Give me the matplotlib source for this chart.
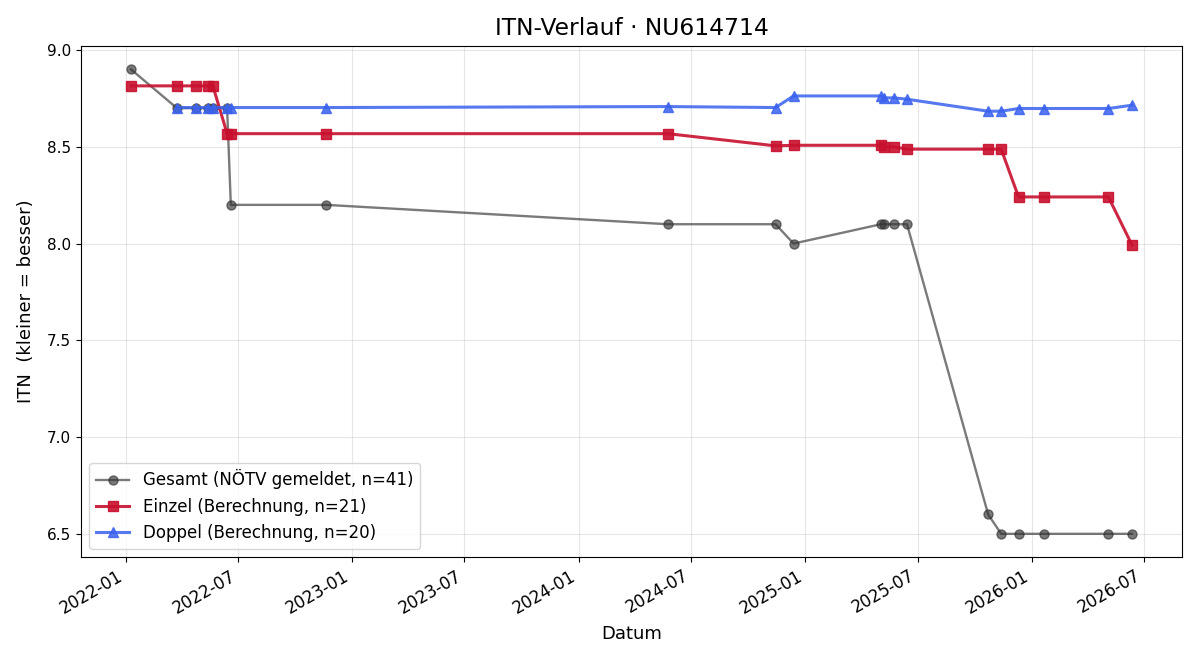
import matplotlib
matplotlib.use("Agg")
import matplotlib.pyplot as plt
import matplotlib.dates as mdates
import pandas as pd

# Gesamt (NÖTV gemeldet)
gesamt_dates = ["2022-01-09", "2022-03-24", "2022-04-24", "2022-05-13", "2022-05-21",
                "2022-06-13", "2022-06-19", "2022-11-20", "2024-05-24", "2024-11-14",
                "2024-12-13", "2025-05-03", "2025-05-08", "2025-05-24", "2025-06-14",
                "2025-10-23", "2025-11-13", "2025-12-11", "2026-01-21", "2026-05-05",
                "2026-06-12"]
gesamt_itn = [8.90, 8.70, 8.70, 8.70, 8.70, 8.70, 8.20, 8.20, 8.10, 8.10,
              8.00, 8.10, 8.10, 8.10, 8.10, 6.60, 6.50, 6.50, 6.50, 6.50, 6.50]

# Einzel (Berechnung)
einzel_dates = ["2022-01-09", "2022-03-24", "2022-04-24", "2022-05-13", "2022-05-21",
                "2022-06-13", "2022-06-19", "2022-11-20", "2024-05-24", "2024-11-14",
                "2024-12-13", "2025-05-03", "2025-05-08", "2025-05-24", "2025-06-14",
                "2025-10-23", "2025-11-13", "2025-12-11", "2026-01-21", "2026-05-05",
                "2026-06-12"]
einzel_itn = [8.815, 8.815, 8.815, 8.815, 8.815, 8.568, 8.568, 8.568, 8.568, 8.505,
              8.508, 8.508, 8.500, 8.500, 8.488, 8.488, 8.488, 8.241, 8.241, 8.241,
              7.993]

# Doppel (Berechnung)
doppel_dates = ["2022-03-24", "2022-04-24", "2022-05-13", "2022-05-21", "2022-06-13",
                "2022-06-19", "2022-11-20", "2024-05-24", "2024-11-14", "2024-12-13",
                "2025-05-03", "2025-05-08", "2025-05-24", "2025-06-14", "2025-10-23",
                "2025-11-13", "2025-12-11", "2026-01-21", "2026-05-05", "2026-06-12"]
doppel_itn = [8.703, 8.703, 8.703, 8.703, 8.703, 8.703, 8.703, 8.708, 8.703, 8.763,
              8.763, 8.753, 8.753, 8.746, 8.684, 8.684, 8.698, 8.698, 8.698, 8.715]

fig, ax = plt.subplots(figsize=(12, 6.6), dpi=100)

ax.plot(pd.to_datetime(gesamt_dates), gesamt_itn, marker="o", markersize=6.5,
        color="#333333", alpha=0.65, linewidth=1.7,
        label="Gesamt (NÖTV gemeldet, n=41)")
ax.plot(pd.to_datetime(einzel_dates), einzel_itn, marker="s", markersize=7,
        color="#c8102e", alpha=0.9, linewidth=2.2,
        label="Einzel (Berechnung, n=21)")
ax.plot(pd.to_datetime(doppel_dates), doppel_itn, marker="^", markersize=7,
        color="#3a62ee", alpha=0.85, linewidth=2.2,
        label="Doppel (Berechnung, n=20)")

ax.set_title("ITN-Verlauf · NU614714", fontsize=16.8, pad=8)
ax.set_xlabel("Datum", fontsize=13, labelpad=6)
ax.set_ylabel("ITN  (kleiner = besser)", fontsize=13, labelpad=9)
ax.grid(True, alpha=0.3)
ax.legend(loc="lower left", fontsize=12)

ax.xaxis.set_major_locator(mdates.MonthLocator(bymonth=[1, 7]))
ax.xaxis.set_major_formatter(mdates.DateFormatter("%Y-%m"))
ax.tick_params(axis="y", labelsize=11)
ax.tick_params(axis="x", labelsize=12)
fig.autofmt_xdate()

fig.subplots_adjust(left=0.0675, right=0.985, top=0.930, bottom=0.156)
fig.savefig("out.png")
